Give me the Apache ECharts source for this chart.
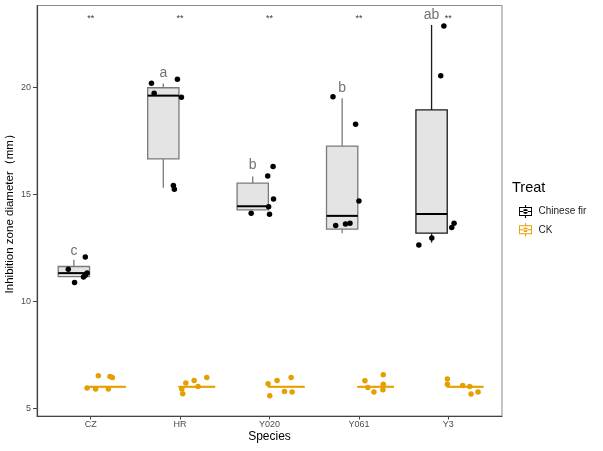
<!DOCTYPE html>
<html>
<head>
<meta charset="utf-8">
<script src="https://cdn.jsdelivr.net/npm/echarts@6.0.0/dist/echarts.min.js"></script>
<style>
  html, body { margin: 0; padding: 0; background: #fff; }
  #main { width: 603px; height: 451px; }
</style>
</head>
<body>
<div id="main"></div>
<script>
// categories
const species = ['CZ', 'HR', 'Y020', 'Y061', 'Y3'];

// Chinese fir box statistics (mm)
const firLow    = [11.16, 15.32, 14.28, 13.19, 12.75];
const firQ1     = [11.16, 16.67, 14.28, 13.38, 13.19];
const firMedian = [11.32, 19.63, 14.45, 14.00, 14.09];
const firQ3     = [11.63, 20.00, 15.53, 17.27, 18.96];
const firHigh   = [11.94, 20.20, 15.84, 19.51, 22.94];

// CK box statistics (all collapsed around 6 mm)
const ckLow    = [6.0, 6.0, 6.0, 6.0, 6.0];
const ckQ1     = [6.0, 6.0, 6.0, 6.0, 6.0];
const ckMedian = [6.0, 6.0, 6.0, 6.0, 6.0];
const ckQ3     = [6.0, 6.0, 6.0, 6.0, 6.0];
const ckHigh   = [6.0, 6.0, 6.0, 6.0, 6.0];

// replicate values (6 per species) and their horizontal jitter (category units)
const firValues = [
  [11.50, 12.07, 10.88, 11.14, 11.22, 11.32],
  [20.21, 20.40, 19.74, 19.55, 15.42, 15.25],
  [16.31, 15.87, 14.79, 14.43, 14.12, 14.08],
  [19.58, 18.29, 14.70, 13.55, 13.62, 13.66],
  [22.89, 20.56, 13.66, 13.45, 12.96, 12.64]
];
const firJitter = [
  [-0.25, -0.06, -0.18, -0.08, -0.06, -0.04],
  [-0.32, -0.03, -0.29, 0.015, -0.075, -0.064],
  [0.04, -0.02, 0.045, -0.01, -0.205, 0.0],
  [-0.29, -0.037, 0.0, -0.26, -0.15, -0.10],
  [-0.05, -0.085, 0.064, 0.038, -0.185, -0.33]
];
const ckValues = [
  [5.94, 5.89, 6.51, 5.89, 6.48, 6.43],
  [5.90, 5.67, 6.17, 6.29, 6.01, 6.43],
  [6.14, 5.58, 6.29, 5.78, 6.43, 5.75],
  [6.28, 5.97, 5.75, 6.56, 6.12, 5.86],
  [6.36, 6.12, 6.06, 6.01, 5.66, 5.75]
];
const ckJitter = [
  [-0.04, 0.056, 0.086, 0.198, 0.216, 0.243],
  [0.019, 0.030, 0.064, 0.157, 0.201, 0.299],
  [-0.016, 0.003, 0.085, 0.168, 0.242, 0.253],
  [0.067, 0.10, 0.168, 0.272, 0.272, 0.268],
  [-0.011, -0.011, 0.161, 0.239, 0.254, 0.332]
];

// significance letters and their heights, plus the "**" row
const sigLetters = ['c', 'a', 'b', 'b', 'ab'];
const letterY = [12.33, 20.68, 16.38, 19.97, 23.40];
const starLabels = ['**', '**', '**', '**', '**'];
const starY = 23.22;

// tick labels
const yTicks = [5, 10, 15, 20];
const xTicks = [1, 2, 3, 4, 5];

const dodge = 0.1875;
const firStroke = ['#7a7a7a', '#7a7a7a', '#7a7a7a', '#7a7a7a', '#1a1a1a'];

const chart = echarts.init(document.getElementById('main'));

function boxData(low, q1, med, q3, high, off) {
  return species.map((s, i) => [i + 1 + off, low[i], q1[i], med[i], q3[i], high[i]]);
}
function pointData(values, jitter) {
  const out = [];
  values.forEach((row, i) => row.forEach((v, j) => out.push([i + 1 + jitter[i][j], v])));
  return out;
}

function boxRenderer(widthUnits, strokeFn, fill, medianColor, medianWidth) {
  return function (params, api) {
    const x = api.value(0);
    const low = api.coord([x, api.value(1)]);
    const q1 = api.coord([x, api.value(2)]);
    const med = api.coord([x, api.value(3)]);
    const q3 = api.coord([x, api.value(4)]);
    const high = api.coord([x, api.value(5)]);
    const w = api.size([widthUnits, 0])[0];
    const stroke = strokeFn(params.dataIndex);
    const cx = q3[0];
    return {
      type: 'group',
      children: [
        { type: 'line', shape: { x1: cx, y1: high[1], x2: cx, y2: q3[1] }, style: { stroke: stroke, lineWidth: 1.3 } },
        { type: 'line', shape: { x1: cx, y1: q1[1], x2: cx, y2: low[1] }, style: { stroke: stroke, lineWidth: 1.3 } },
        { type: 'rect', shape: { x: cx - w / 2, y: q3[1], width: w, height: q1[1] - q3[1] },
          style: { fill: fill, stroke: stroke, lineWidth: 1.3 } },
        { type: 'line', shape: { x1: cx - w / 2, y1: med[1], x2: cx + w / 2, y2: med[1] },
          style: { stroke: medianColor, lineWidth: medianWidth } }
      ]
    };
  };
}

const font = 'Liberation Sans, Arial, sans-serif';
const legendIcon = 'path://M7.4 0h1.2v2.2h-1.2z M1 2.2h14v1h-14z M1 10.8h14v1h-14z M1 2.2h1v9.6h-1z M14 2.2h1v9.6h-1z ' +
  'M1 6.4h14v1.2h-14z M7.4 11.8h1.2v2.2h-1.2z M8 4.4a2.6 2.6 0 1 0 0.001 0z';

chart.setOption({
  animation: false,
  backgroundColor: '#fff',
  textStyle: { fontFamily: font },
  title: {
    text: 'Treat', left: 512, top: 180, padding: 0,
    textStyle: { fontSize: 14.5, fontWeight: 'normal', color: '#000', fontFamily: font }
  },
  legend: {
    orient: 'vertical', left: 519, top: 205, padding: 0,
    itemWidth: 16, itemHeight: 13, itemGap: 5.3,
    icon: legendIcon,
    data: ['Chinese fir', 'CK'],
    textStyle: { fontSize: 10, color: '#1a1a1a', fontFamily: font }
  },
  grid: {
    left: 37, right: 101, top: 5.5, bottom: 35,
    outerBoundsMode: 'none', containLabel: false,
    show: true, borderColor: '#8a8a8a', borderWidth: 1, backgroundColor: '#fff'
  },
  xAxis: {
    type: 'value', min: 0.4, max: 5.6,
    name: 'Species', nameLocation: 'middle', nameGap: 15, nameMoveOverlap: false,
    nameTextStyle: { fontSize: 12, color: '#000', fontFamily: font },
    splitLine: { show: false },
    axisLine: { show: true, lineStyle: { color: '#444', width: 1.2 } },
    axisTick: { show: true, customValues: xTicks, length: 3.5, lineStyle: { color: '#444' } },
    axisLabel: {
      customValues: xTicks, margin: 4, fontSize: 9, color: '#4d4d4d', fontFamily: font,
      formatter: v => species[Math.round(v) - 1]
    }
  },
  yAxis: {
    type: 'value', min: 4.63, max: 23.85,
    name: 'Inhibition zone diameter（mm）', nameLocation: 'middle', nameGap: 21, nameMoveOverlap: false,
    nameTextStyle: { fontSize: 11.5, color: '#000', fontFamily: font },
    splitLine: { show: false },
    axisLine: { show: true, lineStyle: { color: '#444', width: 1.2 } },
    axisTick: { show: true, customValues: yTicks, length: 4, lineStyle: { color: '#444' } },
    axisLabel: { customValues: yTicks, margin: 6, fontSize: 9, color: '#4d4d4d', fontFamily: font }
  },
  series: [
    {
      type: 'custom', name: 'firBox', z: 1,
      renderItem: boxRenderer(0.35, i => firStroke[i], '#e4e4e4', '#000', 2),
      encode: { x: 0, y: [1, 2, 3, 4, 5] },
      data: boxData(firLow, firQ1, firMedian, firQ3, firHigh, -dodge)
    },
    {
      type: 'custom', name: 'ckBox', z: 1,
      renderItem: boxRenderer(0.41, () => '#E69F00', '#f5deb0', '#E69F00', 2),
      encode: { x: 0, y: [1, 2, 3, 4, 5] },
      data: boxData(ckLow, ckQ1, ckMedian, ckQ3, ckHigh, dodge)
    },
    {
      type: 'scatter', name: 'Chinese fir', z: 3,
      symbolSize: 5.5, itemStyle: { color: '#000', opacity: 1 },
      data: pointData(firValues, firJitter)
    },
    {
      type: 'scatter', name: 'CK', z: 3,
      symbolSize: 5.5, itemStyle: { color: '#E69F00', opacity: 1 },
      data: pointData(ckValues, ckJitter)
    },
    {
      type: 'scatter', name: 'letters', z: 4, symbolSize: 0, silent: true,
      label: {
        show: true, position: 'inside', formatter: p => p.name,
        fontSize: 14, color: '#4d4d4d', fontFamily: font
      },
      data: sigLetters.map((t, i) => ({ name: t, value: [i + 1 - dodge, letterY[i]] }))
    },
    {
      type: 'scatter', name: 'stars', z: 4, symbolSize: 0, silent: true,
      label: {
        show: true, position: 'inside', formatter: p => p.name,
        fontSize: 9, color: '#000', fontFamily: font
      },
      data: starLabels.map((t, i) => ({ name: t, value: [i + 1, starY] }))
    }
  ]
});
</script>
</body>
</html>
